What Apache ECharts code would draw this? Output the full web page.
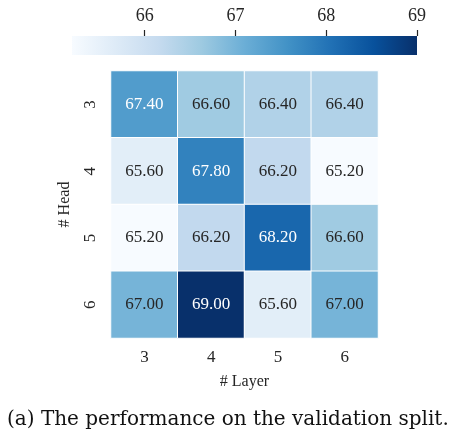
<!DOCTYPE html>
<html>
<head>
<meta charset="utf-8">
<script src="https://cdn.jsdelivr.net/npm/echarts@6/dist/echarts.min.js"></script>
<style>
  html, body { margin: 0; padding: 0; background: #fff; }
  #chart { width: 470px; height: 437px; }
</style>
</head>
<body>
<div id="chart"></div>
<script>
// layers along x, heads along y (top to bottom)
const layers = ['3', '4', '5', '6']
const heads = ['3', '4', '5', '6']
const head3 = [67.40, 66.60, 66.40, 66.40]
const head4 = [65.60, 67.80, 66.20, 65.20]
const head5 = [65.20, 66.20, 68.20, 66.60]
const head6 = [67.00, 69.00, 65.60, 67.00]
const colorTicks = [66, 67, 68, 69]
const vMin = 65.2
const vMax = 69.0

// matplotlib "Blues"
const blues = ['#f7fbff', '#deebf7', '#c6dbef', '#9ecae1', '#6baed6', '#4292c6', '#2171b5', '#08519c', '#08306b']

const rows = [head3, head4, head5, head6]
const cells = []
rows.forEach((row, h) => {
  row.forEach((v, l) => {
    cells.push({
      value: [l, h, v],
      label: { color: v > 67.2 ? '#ffffff' : '#262626' }
    })
  })
})

const serif = 'Liberation Serif'
const chart = echarts.init(document.getElementById('chart'))

const option = {
  backgroundColor: '#ffffff',
  animation: false,
  grid: [
    { left: 111, top: 71, width: 267, height: 267 },
    {
      left: 72, top: 36, width: 345, height: 19, show: true, borderWidth: 0,
      backgroundColor: new echarts.graphic.LinearGradient(0, 0, 1, 0,
        blues.map((c, i) => ({ offset: i / (blues.length - 1), color: c })))
    }
  ],
  xAxis: [
    {
      type: 'category', data: layers, gridIndex: 0,
      name: '# Layer', nameLocation: 'middle', nameGap: 36,
      nameTextStyle: { fontFamily: serif, fontSize: 16, color: '#262626' },
      axisLine: { show: false },
      axisTick: { alignWithLabel: true, length: 6, lineStyle: { color: '#262626', width: 1.2 } },
      axisLabel: { fontFamily: serif, fontSize: 17, color: '#262626', margin: 11 },
      splitLine: { show: false }
    },
    {
      type: 'value', gridIndex: 1, position: 'top', min: vMin, max: vMax,
      axisLine: { show: false, onZero: false },
      axisTick: { show: true, length: 6, customValues: colorTicks, lineStyle: { color: '#262626', width: 1.2 } },
      axisLabel: { fontFamily: serif, fontSize: 18, color: '#262626', margin: 11, customValues: colorTicks },
      splitLine: { show: false }
    }
  ],
  yAxis: [
    {
      type: 'category', data: heads, gridIndex: 0, inverse: true,
      name: '# Head', nameLocation: 'middle', nameGap: 38, nameRotate: 90,
      nameTextStyle: { fontFamily: serif, fontSize: 16, color: '#262626' },
      axisLine: { show: false },
      axisTick: { alignWithLabel: true, length: 6, lineStyle: { color: '#262626', width: 1.2 } },
      axisLabel: { fontFamily: serif, fontSize: 17, color: '#262626', margin: 12, rotate: 90 },
      splitLine: { show: false }
    },
    {
      type: 'value', gridIndex: 1, min: 0, max: 1, show: false
    }
  ],
  visualMap: {
    show: false, type: 'continuous', min: vMin, max: vMax, dimension: 2, seriesIndex: 0,
    inRange: { color: blues }
  },
  series: [
    {
      type: 'heatmap', xAxisIndex: 0, yAxisIndex: 0, data: cells,
      itemStyle: { borderColor: '#ffffff', borderWidth: 1 },
      label: {
        show: true, fontFamily: serif, fontSize: 17,
        formatter: p => p.value[2].toFixed(2)
      },
      emphasis: { disabled: true }
    }
  ],
  graphic: [
    {
      type: 'text', left: 7, top: 410,
      style: {
        text: '(a) The performance on the validation split.',
        font: '20px "DejaVu Serif"', fill: '#111111'
      }
    }
  ]
}

chart.setOption(option)
</script>
</body>
</html>
